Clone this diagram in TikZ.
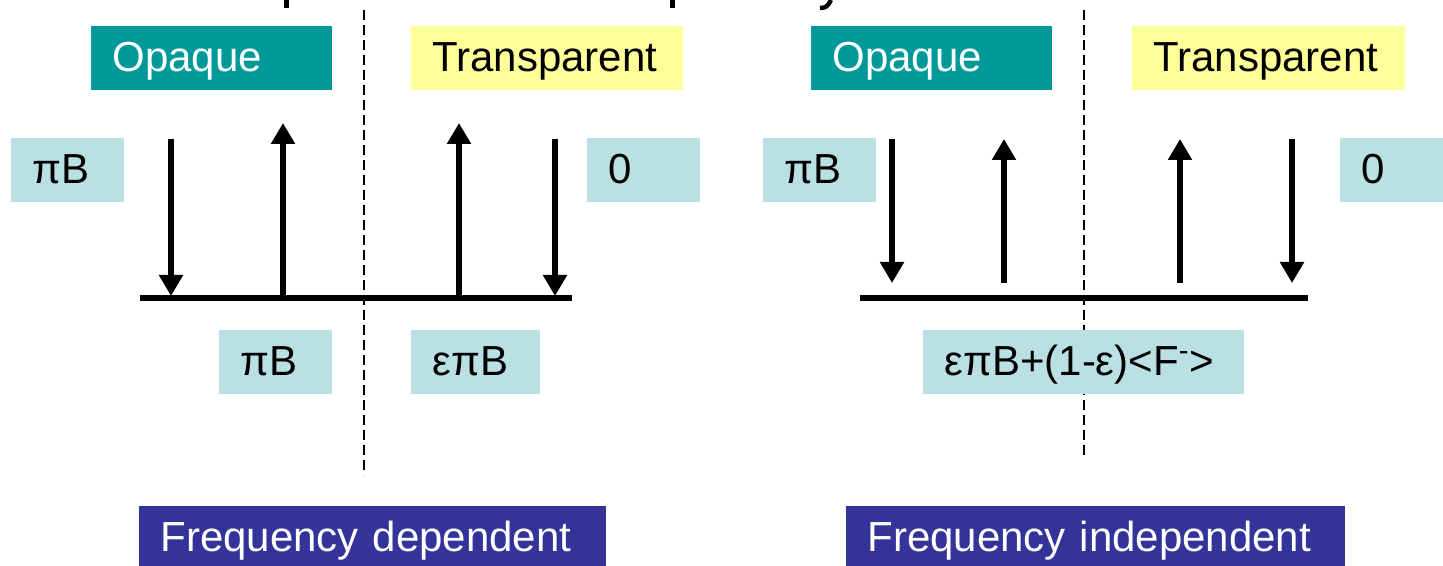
\documentclass[tikz,border=0pt]{standalone}
\usepackage{fontspec}
\setmainfont{Liberation Sans}
\usetikzlibrary{arrows.meta}
\definecolor{teal1}{HTML}{009999}
\definecolor{yel1}{HTML}{FFFF99}
\definecolor{lblue}{HTML}{BBE0E3}
\definecolor{dblue}{HTML}{333399}
\begin{document}
\begin{tikzpicture}[x=0.5pt,y=-0.5pt,
  box/.style={anchor=north west, inner xsep=10.5pt, inner ysep=0pt,
    text height=22.5pt, text depth=9.5pt, align=left,
    font=\fontsize{21pt}{25pt}\selectfont},
  opq/.style={box, fill=teal1, text=white},
  trn/.style={box, fill=yel1, text=black},
  val/.style={box, fill=lblue, text=black},
  freq/.style={box, fill=dblue, text=white, text depth=7.5pt},
  divider/.style={line width=1.2pt, dash pattern=on 5pt off 2.5pt},
  surface/.style={line width=3.3pt},
  ray/.style={line width=3.3pt, -{Triangle[width=11.5pt,length=10.5pt]}}]
\useasboundingbox (0,0) rectangle (1443,566);

% title fragments cut off at the top edge
\fill (284,0) rectangle (288.5,8.5);
\fill (670,0) rectangle (674.5,8.5);
\draw[line width=2.2pt] (831,0) .. controls (828,6) and (826,8) .. (820,8);

% dashed dividers
\coordinate (d1t) at (364,10);
\coordinate (d1b) at (364,475);
\coordinate (d2t) at (1084,10);
\coordinate (d2b) at (1084,458);
\draw[divider] (d1t) -- (d1b);
\draw[divider] (d2t) -- (d2b);

% header boxes
\node[opq, text width=99.5pt] (op1) at (91,26) {Opaque};
\node[trn, text width=115pt] (tr1) at (411,26) {Transparent};
\node[opq, text width=99.5pt] (op2) at (811,26) {Opaque};
\node[trn, text width=115.5pt] (tr2) at (1132,26) {Transparent};

% value boxes
\node[val, text width=35.5pt] (pb1) at (11,138) {πB};
\node[val, text width=35.5pt] (z1) at (587,138) {0};
\node[val, text width=35.5pt] (pb2) at (763,138) {πB};
\node[val, text width=30.5pt] (z2) at (1340,138) {0};
\node[val, text width=35.5pt] (pb3) at (219,330) {πB};
\node[val, text width=43.5pt] (epb) at (411,330) {επB};
\node[val, text width=139.5pt] (mix) at (923,330) {επB+(1-ε)<F\textsuperscript{-}>};

% bottom labels
\node[freq, text width=212.5pt] (fd) at (139,506) {Frequency dependent};
\node[freq, text width=228.5pt] (fi) at (846,506) {Frequency independent};

% left surface and rays
\coordinate (s1l) at (140,298);
\coordinate (s1r) at (572,298);
\draw[surface] (s1l) -- (s1r);
\coordinate (a1t) at (171,139);  \coordinate (a1b) at (171,296);
\coordinate (a2t) at (283,123);  \coordinate (a2b) at (283,297);
\coordinate (a3t) at (459,123);  \coordinate (a3b) at (459,297);
\coordinate (a4t) at (555,139);  \coordinate (a4b) at (555,296);
\draw[ray] (a1t) -- (a1b);
\draw[ray] (a2b) -- (a2t);
\draw[ray] (a3b) -- (a3t);
\draw[ray] (a4t) -- (a4b);

% right surface and rays
\coordinate (s2l) at (860,298);
\coordinate (s2r) at (1308,298);
\draw[surface] (s2l) -- (s2r);
\coordinate (b1t) at (892,139);  \coordinate (b1b) at (892,283);
\coordinate (b2t) at (1004,139); \coordinate (b2b) at (1004,283);
\coordinate (b3t) at (1180,139); \coordinate (b3b) at (1180,283);
\coordinate (b4t) at (1292,139); \coordinate (b4b) at (1292,283);
\draw[ray] (b1t) -- (b1b);
\draw[ray] (b2b) -- (b2t);
\draw[ray] (b3b) -- (b3t);
\draw[ray] (b4t) -- (b4b);
\end{tikzpicture}
\end{document}
